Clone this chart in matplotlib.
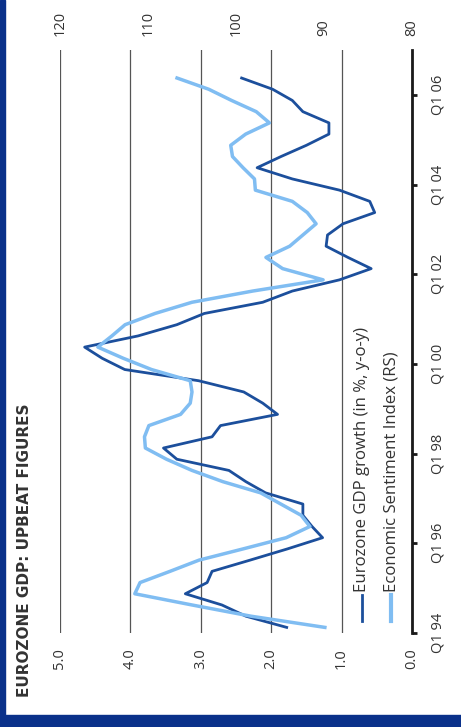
import numpy as np
import matplotlib
matplotlib.use("Agg")
import matplotlib.pyplot as plt
from matplotlib.lines import Line2D
from matplotlib.patches import Rectangle

# quarterly data 1994Q1 .. 2006Q2
gdp = [1.78, 2.36, 2.70, 3.22, 2.91, 2.84, 2.30, 1.77, 1.27, 1.42,
       1.55, 1.55, 2.08, 2.36, 2.60, 3.34, 3.53, 2.84, 2.72, 1.91,
       2.12, 2.39, 3.03, 4.08, 4.40, 4.65, 3.89, 3.34, 2.95, 2.12,
       1.70, 1.03, 0.58, 0.91, 1.22, 1.20, 0.98, 0.53, 0.60, 1.03,
       1.70, 2.20, 1.86, 1.50, 1.18, 1.18, 1.55, 1.70, 1.98, 2.42]
esi = [89.9, 98.3, 105.0, 111.5, 110.9, 107.5, 104.2, 99.2, 94.3, 91.6,
       92.6, 94.9, 97.2, 101.5, 105.0, 107.9, 110.3, 110.4, 109.9, 106.3,
       105.2, 105.0, 105.2, 109.6, 112.8, 115.7, 114.1, 112.6, 109.2, 105.0,
       98.1, 90.1, 94.7, 96.6, 93.9, 92.4, 90.9, 91.9, 93.6, 97.8,
       97.9, 99.2, 100.4, 100.6, 98.9, 96.2, 97.7, 100.5, 103.1, 106.7]
years = [1994, 1996, 1998, 2000, 2002, 2004, 2006]
year_labels = ["Q1 94", "Q1 96", "Q1 98", "Q1 00", "Q1 02", "Q1 04", "Q1 06"]
gdp_ticks = [0, 1, 2, 3, 4, 5]
esi_ticks = [80, 90, 100, 110, 120]

t = 1994 + 0.125 + 0.25 * np.arange(len(gdp))

dark = '#1c4f9c'
light = '#80bdf2'
txt = '#333333'
plt.rcParams['font.family'] = ['Open Sans', 'DejaVu Sans']

W, H = 461, 727
fig = plt.figure(figsize=(W / 100, H / 100), dpi=100)
ax = fig.add_axes([60 / W, 1 - 633 / H, 352 / W, 583 / H])

ax.plot(gdp, t, color=dark, lw=2.0, zorder=3)
ax.set_xlim(5, 0)
ax.set_ylim(1994, 2007)

for s in ['top', 'left', 'bottom']:
    ax.spines[s].set_visible(False)
ax.spines['right'].set_linewidth(2.0)
ax.spines['right'].set_color('#1a1a1a')

ax.set_xticks(gdp_ticks)
ax.set_xticklabels(["%.1f" % v for v in gdp_ticks], rotation=90, fontsize=10.5, color=txt)
ax.tick_params(axis='x', length=0, pad=11)
for lab in ax.get_xticklabels():
    lab.set_va('top')
ax.grid(axis='x', color='#555555', lw=0.9)

ax.yaxis.tick_right()
ax.set_yticks(years)
ax.set_yticklabels(year_labels, rotation=90, va='center', fontsize=10.5, color=txt)
ax.tick_params(axis='y', length=3.5, width=2.0, color='#1a1a1a', pad=10)

ax2 = ax.twiny()
ax2.plot(esi, t, color=light, lw=2.5, zorder=4)
ax2.set_xlim(120, 80)
ax2.set_xticks(esi_ticks)
ax2.set_xticklabels([str(v) for v in esi_ticks], rotation=90, fontsize=10.5, color=txt)
ax2.tick_params(axis='x', length=0, pad=10)
for s in ax2.spines.values():
    s.set_visible(False)

# title
fig.text(25 / W, 1 - 697 / H, "EUROZONE GDP: UPBEAT FIGURES", rotation=90,
         ha='center', va='bottom', fontsize=11, fontweight='bold', color=txt,
         family='DejaVu Sans')

# legend
for xc, col, lw, label in [(362, dark, 2.0, "Eurozone GDP growth (in %, y-o-y)"),
                           (391, light, 3.0, "Economic Sentiment Index (RS)")]:
    fig.add_artist(Line2D([xc / W, xc / W], [1 - 621 / H, 1 - 595 / H], color=col, lw=lw))
    fig.text(xc / W, 1 - 592 / H, label, rotation=90, ha='center', va='bottom',
             fontsize=12.1, color=txt)

# blue frame
fig.add_artist(Rectangle((0, 0), 5 / W, 1, transform=fig.transFigure, color='#0a318a', zorder=0))
fig.add_artist(Rectangle((0, 0), 1, 12 / H, transform=fig.transFigure, color='#0a318a', zorder=0))

fig.savefig("out.png", dpi=100)
